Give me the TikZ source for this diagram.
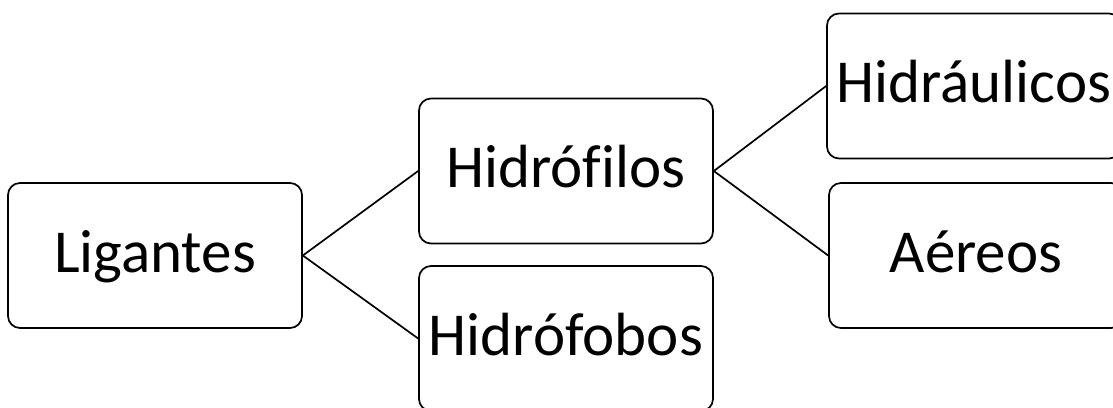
\documentclass[tikz,border=0pt]{standalone}
\usepackage{fontspec}
\setmainfont[Ligatures=NoCommon]{Carlito}
\begin{document}
\begin{tikzpicture}[x=1pt,y=-1pt,line width=1.7pt]
\tikzstyle{caja}=[draw, fill=white, rounded corners=12pt, minimum width=294pt, minimum height=145pt, inner sep=0pt, text height=45pt, text depth=12pt, font=\fontsize{61}{73}\selectfont]
\useasboundingbox (0,0) rectangle (1113,407);
\node[caja] (L)    at (155, 255.5) {Ligantes};
\node[caja] (Hfil) at (566, 171)   {Hidrófilos};
\node[caja] (Hfob) at (566, 338.5) {Hidrófobos};
\node[caja] (Hid)  at (974, 86)    {Hidráulicos};
\node[caja] (Aer)  at (976, 255.5) {Aéreos};

\draw (L.east) -- (Hfil.west);
\draw (L.east) -- (Hfob.west);
\draw (Hfil.east) -- (Hid.west);
\draw (Hfil.east) -- (Aer.west);
\end{tikzpicture}
\end{document}
